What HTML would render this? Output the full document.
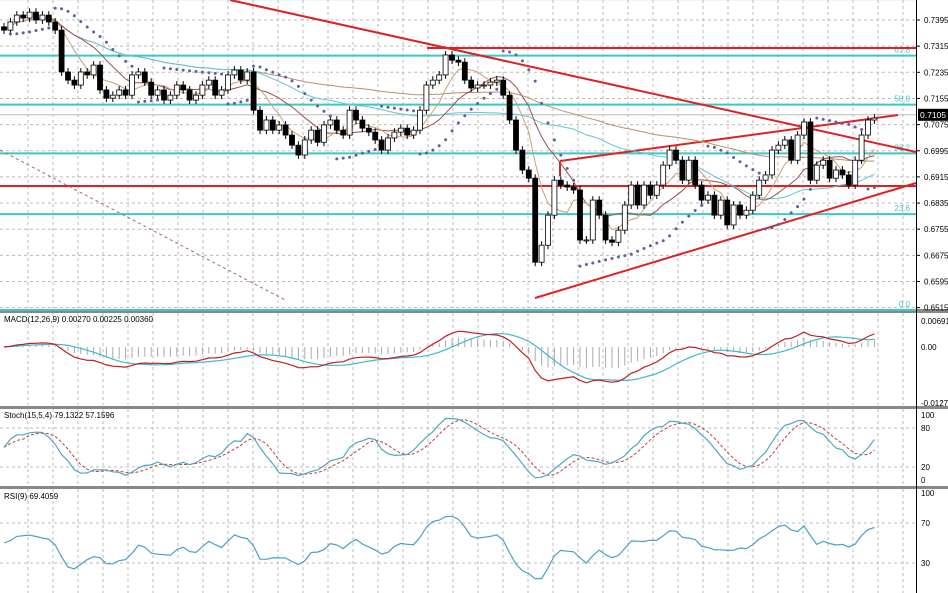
<!DOCTYPE html>
<html><head><meta charset="utf-8"><style>
body{margin:0;background:#fff;font-family:"Liberation Sans",sans-serif;}
svg{display:block}
text{font-family:"Liberation Sans",sans-serif;}
</style></head><body>
<svg id="c" width="948" height="593"></svg>
<script>
const closeY = [30,22,15,18,12,20,15,22,30,72,80,85,72,75,65,90,98,95,90,95,75,72,82,95,90,100,95,85,90,100,95,85,80,95,90,75,70,80,72,110,130,120,130,125,135,145,155,140,130,142,125,120,130,135,110,120,128,132,140,150,138,132,128,135,130,110,85,80,75,55,60,62,80,88,85,85,82,80,95,120,150,170,178,262,245,215,180,185,187,190,240,240,200,215,240,242,230,205,185,205,185,195,185,165,150,160,180,160,185,200,195,215,200,225,205,215,210,195,180,175,150,145,140,160,135,122,180,165,160,178,170,175,185,160,135,120,118];
const closes = closeY.map(y => +(0.7456 - y*0.000306).toFixed(4));
const priceTicks = ["0.7395","0.7315","0.7235","0.7155","0.7075","0.6995","0.6915","0.6835","0.6755","0.6675","0.6595","0.6515"];
const fibLevels = [0.7459,0.7286,0.7136,0.6987,0.6801,0.6508];
const fibLabels = ["","61.8","50.0","38.2","23.6","0.0"];
const macdTicks = ["0.00691","0.00","-0.01272"];
const stochTicks = ["100","80","20","0"];
const rsiTicks = ["100","70","30"];

const NS="http://www.w3.org/2000/svg", svg=document.getElementById('c');
function el(t,a,p){const e=document.createElementNS(NS,t);for(const k in a)e.setAttribute(k,a[k]);(p||svg).appendChild(e);return e;}
const PR=916;
const py = p => 20 + (0.7395-p)/0.008*26.15;
const xi = i => 4 + i*6.4;

el('rect',{x:0,y:0,width:948,height:593,fill:'#fff'});
[[309,4],[406,3],[486,3]].forEach(([y,h])=>{const r=el('rect',{x:0,y:y,width:948,height:h,fill:'#888'});});
el('line',{x1:PR+0.5,y1:0,x2:PR+0.5,y2:593,stroke:'#000','stroke-width':1});
const grid=el('g',{stroke:'#bbb','stroke-dasharray':'3,3','stroke-width':1});

for(let x=28;x<PR;x+=25){[[0,308],[313,405],[409,485],[489,593]].forEach(([a,b])=>el('line',{x1:x,y1:a,x2:x,y2:b},grid));}
priceTicks.forEach(t=>{const y=py(+t);el('line',{x1:0,y1:y,x2:PR,y2:y},grid);
 el('line',{x1:PR,y1:y,x2:PR+4,y2:y,stroke:'#000'});
 const tx=el('text',{x:PR+8,y:y+3,'font-size':8,fill:'#000'});tx.textContent=t;});
fibLevels.forEach((p,i)=>{const y=py(p);const l=el('line',{x1:0,y1:y,x2:PR,y2:y,stroke:'#3cc8c8','stroke-width':2});
 if(fibLabels[i]){const t=el('text',{x:910,y:y-3,'font-size':8,fill:'#3cc8c8','text-anchor':'end'});t.textContent=fibLabels[i];}});
el('line',{x1:0,y1:py(0.7105),x2:PR,y2:py(0.7105),stroke:'#bbb'});
el('line',{x1:427,y1:48,x2:PR,y2:48,stroke:'#d22','stroke-width':2});
el('line',{x1:0,y1:186,x2:PR,y2:186,stroke:'#d22','stroke-width':2});
el('line',{x1:230,y1:0,x2:PR,y2:152,stroke:'#d22','stroke-width':2});
el('line',{x1:535,y1:298,x2:PR,y2:183,stroke:'#d22','stroke-width':2});
el('line',{x1:560,y1:161,x2:898,y2:115,stroke:'#d22','stroke-width':2});
el('line',{x1:560,y1:161,x2:560,y2:176,stroke:'#d22','stroke-width':2});
el('line',{x1:0,y1:150,x2:285,y2:300,stroke:'#a66','stroke-dasharray':'3,3'});

function sma(a,n){return a.map((v,i)=>{const s=a.slice(Math.max(0,i-n+1),i+1);return s.reduce((x,y)=>x+y,0)/s.length;});}
function ema(a,n){const k=2/(n+1);let r=[];a.forEach((v,i)=>r.push(i?v*k+r[i-1]*(1-k):v));return r;}
function path(vals,fy,attrs,name){const d=vals.map((v,i)=>(i?'L':'M')+xi(i).toFixed(1)+','+fy(v).toFixed(1)).join('');const p=el('path',Object.assign({d:d,fill:'none'},attrs));return p;}
path(sma(closes,80),py,{stroke:'#b89070','stroke-width':1},'ma-slow');
path(sma(closes,40),py,{stroke:'#5cc8d8','stroke-width':1},'ma-mid');
path(sma(closes,12),py,{stroke:'#a05050','stroke-width':1},'ma-fast');
path(sma(closes,6),py,{stroke:'#c8a070','stroke-width':1},'ma-faster');

const opens = closes.map((c,i)=>i?closes[i-1]:c+0.001);
const cg=el('g',{});
closes.forEach((c,i)=>{const o=opens[i],x=xi(i);const hi=Math.max(o,c)+0.0012,lo=Math.min(o,c)-0.0012;
 const g=el('g',{},cg);
 el('line',{x1:x,y1:py(hi),x2:x,y2:py(lo),stroke:'#000'},g);
 const t=py(Math.max(o,c)),b=py(Math.min(o,c));
 el('rect',{x:x-2.5,y:t,width:5,height:Math.max(1,b-t),fill:c>=o?'#fff':'#000',stroke:'#000','stroke-width':0.8},g);});

(function(){const hi=closes.map((c,i)=>Math.max(c,opens[i])+0.0012),lo=closes.map((c,i)=>Math.min(c,opens[i])-0.0012);
 let up=false,af=0.02,ep=lo[0],sar=hi[0];
 for(let i=1;i<closes.length;i++){sar=sar+af*(ep-sar);
  if(up){if(lo[i]<sar){up=false;sar=ep;ep=lo[i];af=0.02;}else if(hi[i]>ep){ep=hi[i];af=Math.min(0.2,af+0.02);}}
  else{if(hi[i]>sar){up=true;sar=ep;ep=hi[i];af=0.02;}else if(lo[i]<ep){ep=lo[i];af=Math.min(0.2,af+0.02);}}
  const d=el('circle',{cx:xi(i),cy:py(sar),r:1.5,fill:'#6060a0'});}})();

el('rect',{x:918,y:py(0.7105)-6,width:30,height:12,fill:'#000'});
const pl=el('text',{x:920,y:py(0.7105)+3,'font-size':8.5,fill:'#fff'});pl.textContent='0.7105';

const e12=ema(closes,12),e26=ema(closes,26),macd=e12.map((v,i)=>v-e26[i]),sig=sma(macd,9);
const my=v=>347 - v/0.00691*26;
macd.forEach((v,i)=>{const l=el('line',{x1:xi(i),y1:my(0),x2:xi(i),y2:my(v*0.6),stroke:'#aaa'});});
path(sig,my,{stroke:'#40b8d0','stroke-width':1.2},'macd-signal');
path(macd,my,{stroke:'#c02020','stroke-width':1.2},'macd-line');
[[macdTicks[0],321],[macdTicks[1],347],[macdTicks[2],403]].forEach(([t,y])=>{const tx=el('text',{x:PR+5,y:y+3,'font-size':8});tx.textContent=t;});
let tt=el('text',{x:4,y:322,'font-size':8});tt.textContent='MACD(12,26,9) 0.00270 0.00225 0.00360';

const hh=closes.map((c,i)=>Math.max(...closes.slice(Math.max(0,i-14),i+1))+0.0012),ll=closes.map((c,i)=>Math.min(...closes.slice(Math.max(0,i-14),i+1))-0.0012);
const k=sma(closes.map((c,i)=>(c-ll[i])/(hh[i]-ll[i])*100),5),dd=sma(k,4);
const sy=v=>480 - v/100*65;
[80,20].forEach(v=>el('line',{x1:0,y1:sy(v),x2:PR,y2:sy(v),stroke:'#bbb','stroke-dasharray':'3,3'}));
path(dd,sy,{stroke:'#c04040','stroke-dasharray':'3,2'},'stoch-signal');
path(k,sy,{stroke:'#50a8c0','stroke-width':1.2},'stoch-main');
stochTicks.forEach(t=>{const tx=el('text',{x:PR+5,y:sy(+t)+3,'font-size':8});tx.textContent=t;});
tt=el('text',{x:4,y:418,'font-size':8});tt.textContent='Stoch(15,5,4) 79.1322 57.1596';

let ag=0.0015,al=0.0015,rsi=[50];for(let i=1;i<closes.length;i++){const ch=closes[i]-closes[i-1];ag=(ag*8+Math.max(ch,0))/9;al=(al*8+Math.max(-ch,0))/9;rsi.push(al===0?100:100-100/(1+ag/al));}
const rsiS=sma(rsi,2);
const ry=v=>593 - v/100*100;
[70,30].forEach(v=>el('line',{x1:0,y1:ry(v),x2:PR,y2:ry(v),stroke:'#bbb','stroke-dasharray':'3,3'}));
path(rsiS,ry,{stroke:'#4aa0c8','stroke-width':1.2},'rsi-line');
rsiTicks.forEach(t=>{const tx=el('text',{x:PR+5,y:ry(+t)+3,'font-size':8});tx.textContent=t;});
tt=el('text',{x:4,y:499,'font-size':8});tt.textContent='RSI(9) 69.4059';
</script>
</body></html>
